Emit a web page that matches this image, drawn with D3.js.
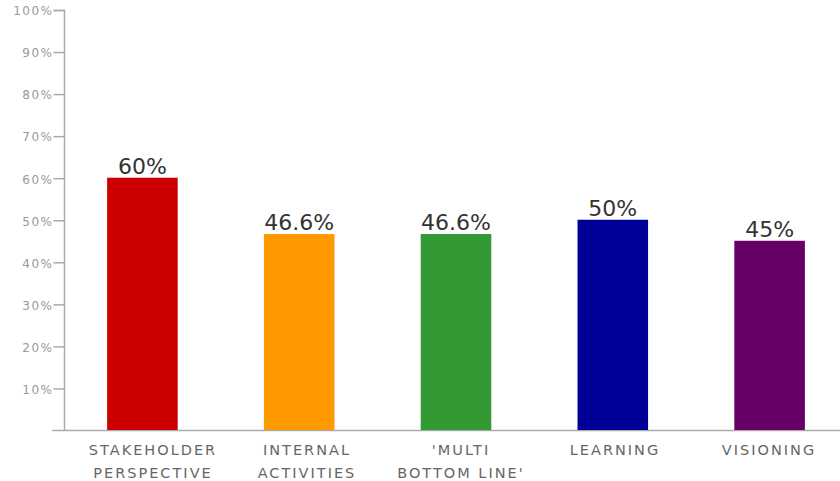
<!DOCTYPE html>
<html><head><meta charset="utf-8">
<script src="https://cdn.jsdelivr.net/npm/d3@7/dist/d3.min.js"></script>
<style>body{margin:0;background:#fff}svg{display:block}</style>
</head><body>
<svg id="c" width="840" height="481"></svg>
<script>
const categories = [["STAKEHOLDER","PERSPECTIVE"],["INTERNAL","ACTIVITIES"],["'MULTI","BOTTOM LINE'"],["LEARNING"],["VISIONING"]];
const values = [60, 46.6, 46.6, 50, 45];
const valueLabels = ["60%","46.6%","46.6%","50%","45%"];
const colors = ["#cc0000","#ff9900","#339933","#000099","#660066"];
const tickValues = [10,20,30,40,50,60,70,80,90,100];

const svg = d3.select("#c");
const ids = categories.map((c,i)=>i);
const x = d3.scaleBand().domain(ids).range([64,848]).paddingInner(0.55).paddingOuter(0.275);
const xl = d3.scaleBand().domain(ids).range([75,845]);
const y = d3.scaleLinear().domain([0,100]).range([430,9.5]);

// y axis
const yAxis = d3.axisLeft(y).tickValues(tickValues).tickSize(11).tickFormat(d=>d+"%");
const ga = svg.append("g").attr("transform","translate(64.5,0.5)").call(yAxis);
ga.select(".domain").attr("stroke","#aaa").attr("stroke-width",1.5).attr("d","M-11,"+Math.round(y(100))+"H0V"+430);
ga.selectAll(".tick line").attr("stroke","#aaa").attr("stroke-width",1.5);
ga.selectAll(".tick text").attr("fill","#999").attr("font-family","DejaVu Sans").attr("font-size",12).attr("letter-spacing","1.5px").attr("x",-11).attr("dy","0.4em");

// baseline
svg.append("line").attr("x1",52).attr("x2",840).attr("y1",430.5).attr("y2",430.5).attr("stroke","#aaa").attr("stroke-width",1.5);

// bars
svg.selectAll("rect.bar").data(values).enter().append("rect").attr("class","bar")
  .attr("x",(d,i)=>x(i)).attr("width",x.bandwidth())
  .attr("y",d=>y(d)).attr("height",d=>y(0)-y(d))
  .attr("fill",(d,i)=>colors[i]);

// value labels
svg.selectAll("text.val").data(values).enter().append("text").attr("class","val")
  .attr("x",(d,i)=>x(i)+x.bandwidth()/2).attr("y",d=>y(d)-4)
  .attr("text-anchor","middle").attr("font-family","DejaVu Sans").attr("font-size",22)
  .attr("fill","#333").text((d,i)=>valueLabels[i]);

// category labels
const cl = svg.selectAll("text.cat").data(categories).enter().append("text").attr("class","cat")
  .attr("font-family","DejaVu Sans").attr("font-size",14.5)
  .attr("letter-spacing","2px").attr("fill","#666").attr("text-anchor","middle");
cl.each(function(lines,i){
  const t = d3.select(this);
  const cx = xl(i)+xl.bandwidth()/2 + 1;
  lines.forEach((ln,j)=>t.append("tspan").attr("x",cx).attr("y",455+j*22.5).text(ln));
});
</script>
</body></html>
